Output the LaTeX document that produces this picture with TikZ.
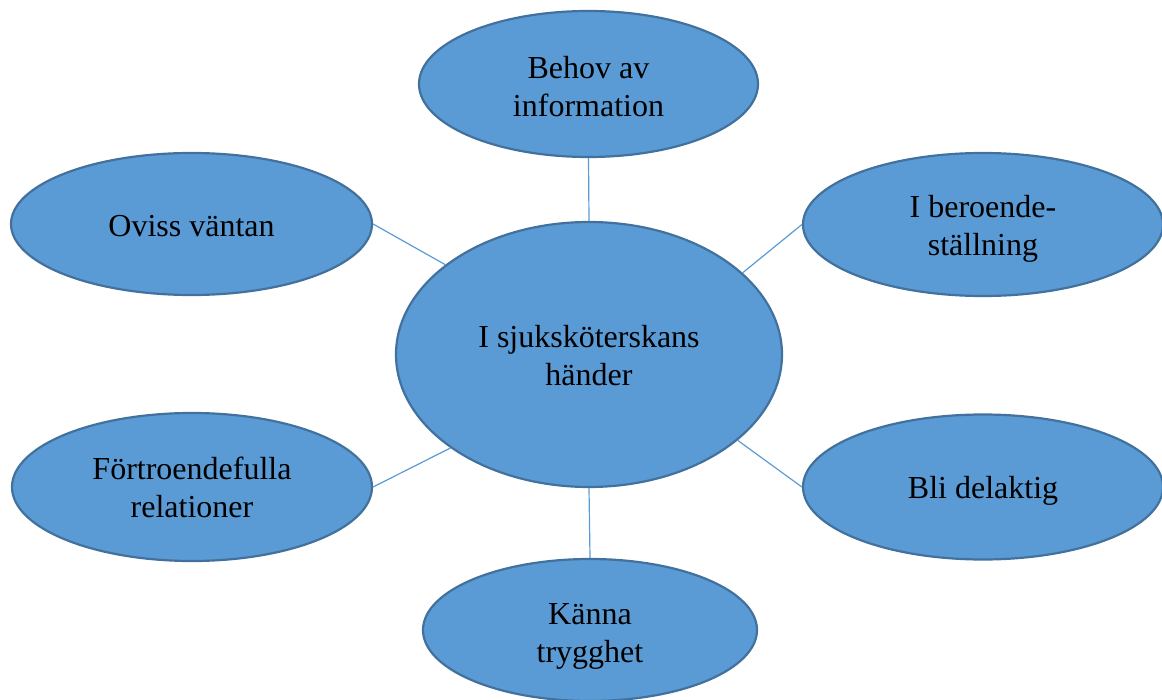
\documentclass[tikz,border=0pt]{standalone}
\usepackage{fontspec}
\setmainfont{Liberation Serif}
\usetikzlibrary{shapes.geometric}
\definecolor{bubblefill}{HTML}{5B9BD5}
\definecolor{bubbleedge}{HTML}{41719C}
\begin{document}
\begin{tikzpicture}[x=0.5pt,y=-0.5pt,
  bubble/.style={ellipse, draw=bubbleedge, fill=bubblefill, line width=1.1pt,
    inner sep=0pt},
  txt/.style={inner sep=0pt, align=center, font=\fontsize{16}{19}\selectfont},
  link/.style={draw=bubblefill, line width=0.6pt}]
\useasboundingbox (0,0) rectangle (1162,700);
\node[bubble, minimum width=386pt/2, minimum height=265pt/2] (c) at (589,354.5) {};
\node[bubble, minimum width=339pt/2, minimum height=146pt/2] (top) at (588.5,84) {};
\node[bubble, minimum width=361pt/2, minimum height=142pt/2] (lt) at (191.5,224) {};
\node[bubble, minimum width=360pt/2, minimum height=143pt/2] (rt) at (983,224.5) {};
\node[bubble, minimum width=360pt/2, minimum height=148pt/2] (lb) at (192,487) {};
\node[bubble, minimum width=360pt/2, minimum height=145pt/2] (rb) at (983,487) {};
\node[bubble, minimum width=334pt/2, minimum height=142pt/2] (bot) at (590,630) {};
\node[txt, yshift=-0.5pt] (ct) at (c) {I sjuksköterskans\\händer};
\node[txt, yshift=-1.5pt] (topt) at (top) {Behov av\\information};
\node[txt, yshift=-1pt] (ltt) at (lt) {Oviss väntan};
\node[txt, yshift=-2pt] (rtt) at (rt) {I beroende-\\ställning};
\node[txt, yshift=-0.3pt] (lbt) at (lb) {Förtroendefulla\\relationer};
\node[txt, yshift=-2pt] (rbt) at (rb) {Bli delaktig};
\node[txt, yshift=-3pt] (bott) at (bot) {Känna\\trygghet};
\draw[link] (top.south) -- (c.north);
\draw[link] (bot.north) -- (c.south);
\draw[link] (lt.east) -- (c.148);
\draw[link] (rt.west) -- (c.28);
\draw[link] (lb.east) -- (c.214.6);
\draw[link] (rb.west) -- (c.-30.5);
\end{tikzpicture}
\end{document}
